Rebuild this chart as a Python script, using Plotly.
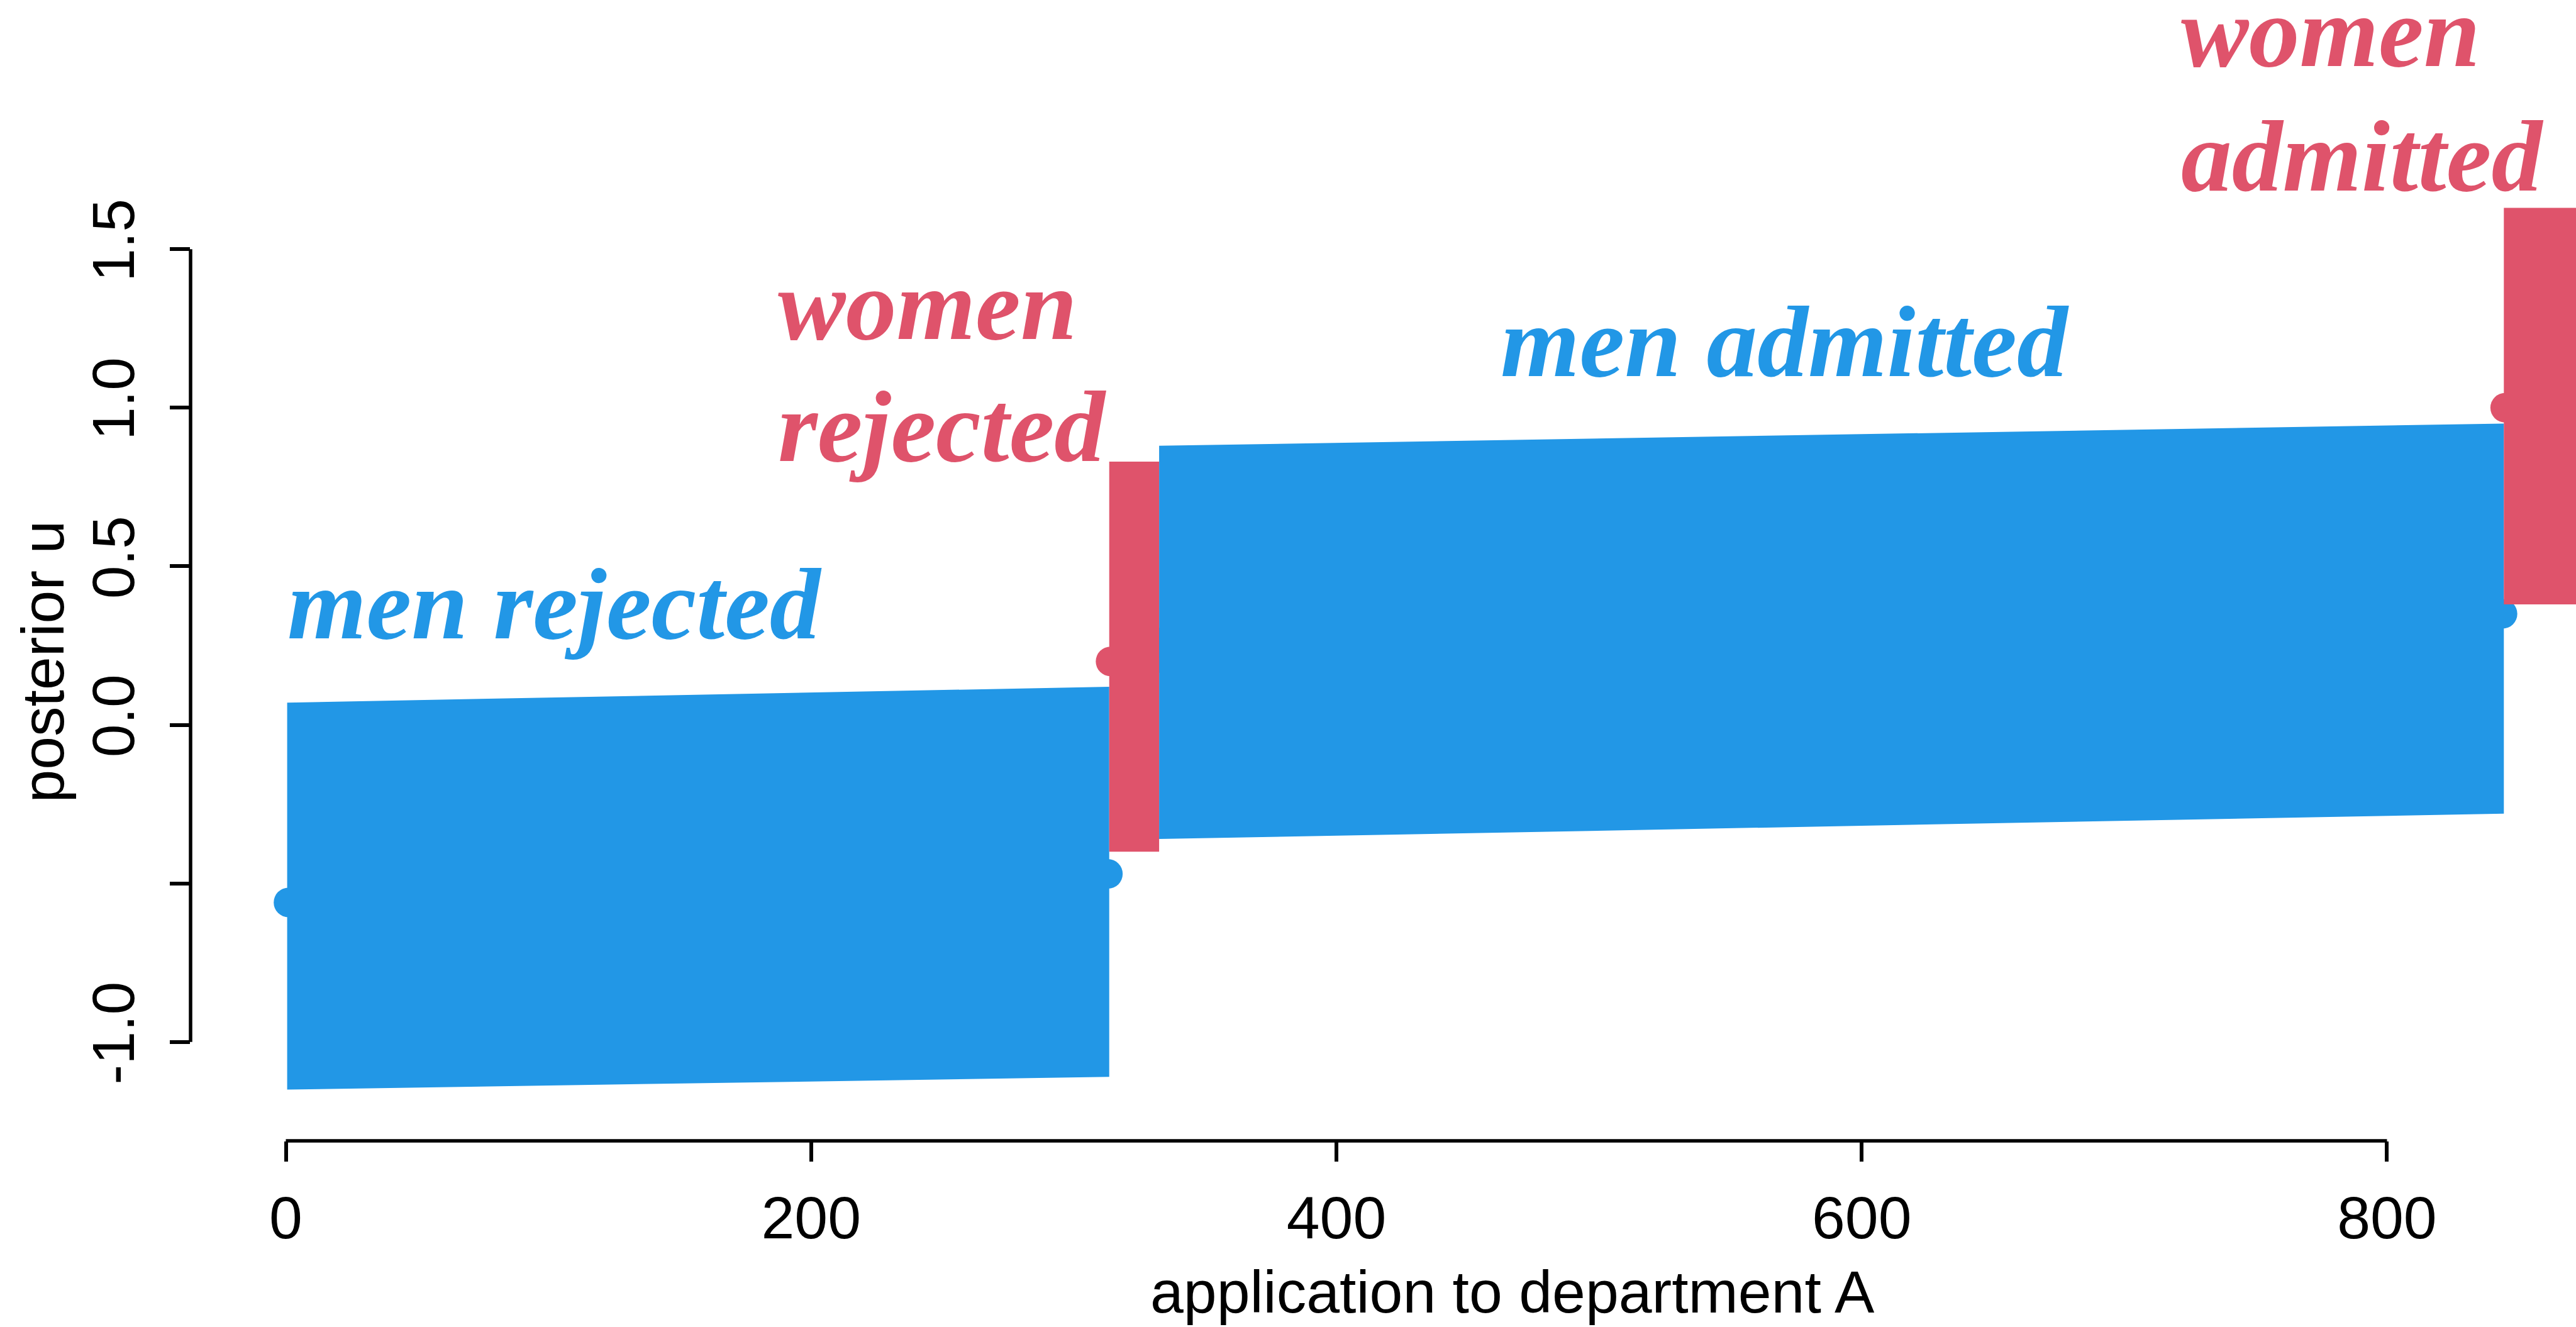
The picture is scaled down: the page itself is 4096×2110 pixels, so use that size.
import plotly.graph_objects as go

# Posterior u for applications to department A, ordered by group
groups = ["men rejected", "women rejected", "men admitted", "women admitted"]
group_sizes = [313, 19, 512, 89]
group_colors = ["#2297E6", "#DF536B", "#2297E6", "#DF536B"]

# posterior mean of u at the first and last application of each group
mean_first = [-0.56, 0.20, 0.26, 1.00]
mean_last = [-0.47, 0.21, 0.35, 1.00]

# interval bounds at the first and last application of each group
lower_first = [-1.15, -0.40, -0.36, 0.38]
lower_last = [-1.11, -0.40, -0.28, 0.38]
upper_first = [0.07, 0.83, 0.88, 1.63]
upper_last = [0.12, 0.83, 0.95, 1.63]

x_ticks = [0, 200, 400, 600, 800]
y_ticks = [-1.0, -0.5, 0.0, 0.5, 1.0, 1.5]
y_tick_labels = ["-1.0", "", "0.0", "0.5", "1.0", "1.5"]

group_labels = [["men rejected"], ["women", "rejected"], ["men admitted"], ["women", "admitted"]]

# ---- layout geometry (pixels) ----
W, H = 4096, 2110
M_L, M_R, M_T, M_B = 303, 0, 291, 296
X_RANGE = [-36.28, 871.97]
Y_RANGE = [-1.3117, 1.7085]
PLOT_H = H - M_T - M_B
PLOT_W = W - M_L - M_R


def paper_y(py):
    return (H - M_B - py) / PLOT_H


def paper_x(px):
    return (px - M_L) / PLOT_W


fig = go.Figure()

# application index ranges per group
starts, ends = [], []
pos = 1
for n in group_sizes:
    starts.append(pos)
    ends.append(pos + n - 1)
    pos += n

# means first (the intervals are drawn over them)
for i, g in enumerate(groups):
    fig.add_trace(go.Scatter(
        x=[starts[i], ends[i]], y=[mean_first[i], mean_last[i]],
        mode="markers",
        marker=dict(size=47, color=group_colors[i], line=dict(width=0)),
        showlegend=False, hoverinfo="skip",
    ))

# intervals of every application in the group, drawn as one band
for i, g in enumerate(groups):
    x0, x1 = starts[i] - 0.5, ends[i] + 0.5
    fig.add_trace(go.Scatter(
        x=[x0, x1, x1, x0, x0],
        y=[lower_first[i], lower_last[i], upper_last[i], upper_first[i], lower_first[i]],
        mode="lines", fill="toself",
        fillcolor=group_colors[i], line=dict(width=0, color=group_colors[i]),
        showlegend=False, name=g, hoverinfo="name",
    ))

# group labels: left x (data units) and baselines (pixels)
label_x = [0, 187, 462, 721]
label_baselines = [[1014.6], [538.7, 733.4], [598.5], [105.5, 303.0]]
LABEL_SIZE = 161.5
annotations = []
for i, lines in enumerate(group_labels):
    for line, base in zip(lines, label_baselines[i]):
        annotations.append(dict(
            text=line, xref="x", yref="paper",
            x=label_x[i], y=paper_y(base - 0.3375 * LABEL_SIZE),
            xanchor="left", yanchor="middle", showarrow=False,
            font=dict(family="Liberation Serif", size=LABEL_SIZE,
                      color=group_colors[i], weight="bold", style="italic"),
        ))

AXIS_FONT = dict(family="Liberation Sans", size=95, color="black")
annotations.append(dict(
    text="application to department A", xref="x", yref="paper",
    x=467, y=paper_y(2087 - 0.3465 * 95), xanchor="center", yanchor="middle",
    showarrow=False, font=AXIS_FONT,
))
annotations.append(dict(
    text="posterior u", xref="paper", yref="paper",
    x=paper_x(100 - 0.3465 * 95), y=0.5, xanchor="center", yanchor="middle",
    textangle=-90, showarrow=False, font=AXIS_FONT,
))

LW = 5.5
shapes = [
    dict(type="line", xref="paper", yref="y", x0=0, x1=0,
         y0=y_ticks[0], y1=y_ticks[-1], line=dict(color="black", width=LW)),
    dict(type="line", xref="x", yref="paper", x0=x_ticks[0], x1=x_ticks[-1],
         y0=0, y1=0, line=dict(color="black", width=LW)),
]

fig.update_layout(
    width=W, height=H,
    margin=dict(l=M_L, r=M_R, t=M_T, b=M_B, pad=0, autoexpand=False),
    paper_bgcolor="white", plot_bgcolor="white",
    showlegend=False,
    annotations=annotations,
    shapes=shapes,
    xaxis=dict(
        range=X_RANGE, tickvals=x_ticks, ticktext=[str(v) for v in x_ticks],
        ticks="outside", ticklen=32, tickwidth=LW, tickcolor="black",
        showline=False, showgrid=False, zeroline=False,
        tickfont=AXIS_FONT, ticklabelstandoff=8,
    ),
    yaxis=dict(
        range=Y_RANGE, tickvals=y_ticks, ticktext=y_tick_labels,
        ticks="outside", ticklen=32, tickwidth=LW, tickcolor="black",
        showline=False, showgrid=False, zeroline=False,
        tickfont=AXIS_FONT, tickangle=-90, ticklabelstandoff=19,
    ),
)

fig.write_html("out.html")
